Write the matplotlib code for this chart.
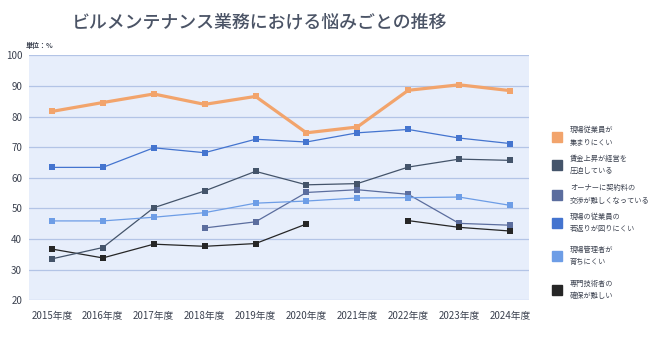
import numpy as np
import matplotlib
matplotlib.use("Agg")
import matplotlib.pyplot as plt
from matplotlib.patches import Rectangle

plt.rcParams['font.family'] = ['Noto Sans CJK JP', 'DejaVu Sans']

years = ["2015年度", "2016年度", "2017年度", "2018年度", "2019年度",
         "2020年度", "2021年度", "2022年度", "2023年度", "2024年度"]

labels = [
    "現場従業員が\n集まりにくい",
    "賃金上昇が経営を\n圧迫している",
    "オーナーに契約料の\n交渉が難しくなっている",
    "現場の従業員の\n若返りが図りにくい",
    "現場管理者が\n育ちにくい",
    "専門技術者の\n確保が難しい",
]

staff_shortage = [81.7, 84.6, 87.4, 84.0, 86.6, 74.7, 76.6, 88.6, 90.4, 88.5]
wage_pressure = [33.5, 37.2, 50.2, 55.7, 62.1, 57.7, 58.1, 63.5, 66.1, 65.7]
owner_fees = [np.nan, np.nan, np.nan, 43.6, 45.6, 55.2, 56.1, 54.6, 45.1, 44.5]
youth_staff = [63.4, 63.4, 69.8, 68.2, 72.6, 71.7, 74.7, 75.8, 73.0, 71.2]
managers = [45.9, 45.9, 47.1, 48.6, 51.7, 52.4, 53.4, 53.5, 53.7, 51.0]
specialists = [36.7, 33.8, 38.3, 37.6, 38.5, 44.9, np.nan, 46.0, 43.8, 42.6]

series = [staff_shortage, wage_pressure, owner_fees, youth_staff, managers, specialists]
colors = ["#f2a46c", "#44546a", "#5b6d9e", "#4474cf", "#6d9de6", "#262626"]
widths = [2.3, 0.9, 0.9, 0.9, 0.9, 0.9]
msizes = [5.0, 4.4, 4.4, 4.4, 4.4, 4.4]
zorders = [6, 4, 3, 5, 4, 3]

fig = plt.figure(figsize=(6.6, 3.38), dpi=100)
ax = fig.add_axes([0.044, 0.112, 0.758, 0.724])
ax.set_facecolor("#e7eefb")

x = np.arange(len(years))
for vals, c, lw, ms, z in zip(series, colors, widths, msizes, zorders):
    ax.plot(x, vals, color=c, lw=lw, marker="s", markersize=ms,
            markeredgewidth=0, zorder=z)

ax.set_ylim(20, 100)
ax.set_xlim(-0.45, 9.38)
ax.set_yticks(np.arange(20, 101, 10))
ax.set_xticks(x)
ax.set_xticklabels(years)
ax.grid(axis="y", color="#b3c4e6", lw=0.9, zorder=1)
ax.set_axisbelow(True)
for s in ax.spines.values():
    s.set_visible(False)
ax.tick_params(axis="both", length=0, labelsize=7, colors="#3c4250")
ax.tick_params(axis="x", pad=8)
ax.tick_params(axis="y", pad=5)

fig.text(0.394, 0.935, "ビルメンテナンス業務における悩みごとの推移",
         ha="center", va="center", fontsize=12.9, color="#4b5466",
         fontweight="medium")
fig.text(0.039, 0.865, "単位：%", ha="left", va="center", fontsize=5,
         color="#3c4250", fontweight="bold")

# legend drawn as coloured squares with two-line captions
legend_y = [136.5, 165, 194.5, 223, 256, 290]
for lab, c, yy in zip(labels, colors, legend_y):
    fy = 1 - yy / 338
    fig.patches.append(Rectangle((552 / 660, fy - 5 / 338), 10 / 660, 10 / 338,
                                 transform=fig.transFigure, color=c))
    fig.text(570 / 660, fy, lab, ha="left", va="center", fontsize=5.2,
             color="#3c4250", linespacing=1.75)

fig.savefig("out.png", dpi=100, facecolor="white")
